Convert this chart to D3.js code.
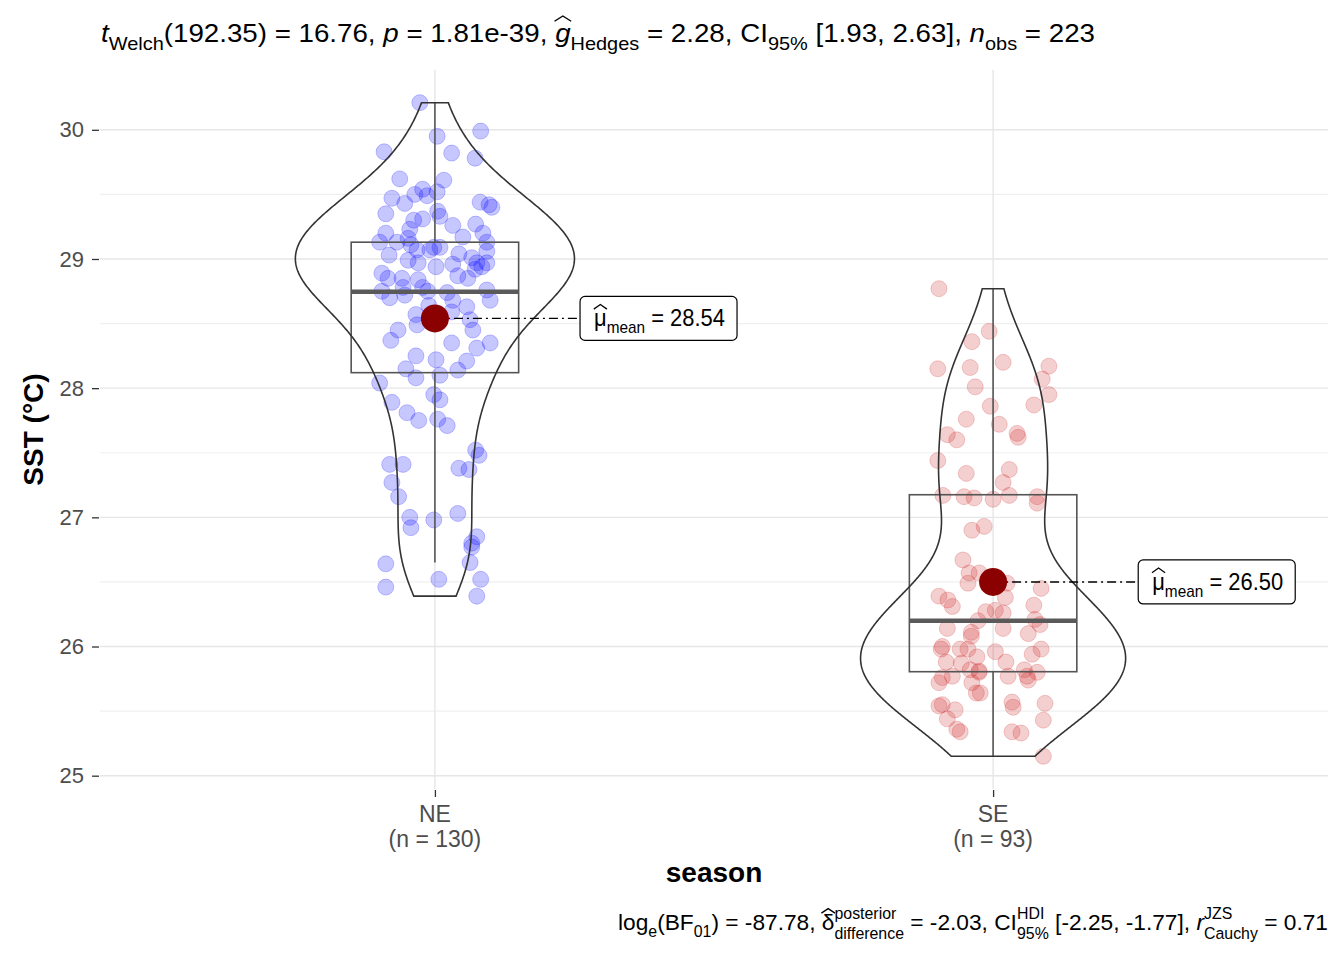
<!DOCTYPE html>
<html><head><meta charset="utf-8">
<script src="https://cdn.jsdelivr.net/npm/d3@7"></script>
<style>body{margin:0;background:#fff}text{white-space:pre}</style>
</head><body>
<svg id="chart" width="1344" height="960"></svg>
<script>
const categories = ["NE", "SE"];
const counts = [130, 93];
const yTicks = [25, 26, 27, 28, 29, 30];
const yMinorTicks = [25.5, 26.5, 27.5, 28.5, 29.5];

// observed SST values and horizontal jitter (in category units)
const neValues = [30.21,29.95,29.99,29.83,29.82,29.78,29.62,29.61,29.54,29.50,29.49,29.52,29.47,29.43,29.44,29.42,29.40,29.35,29.37,29.33,29.30,29.31,29.26,29.27,29.17,29.20,29.23,29.20,29.13,29.13,29.16,29.11,29.13,29.09,29.09,29.03,29.07,29.07,29.04,29.06,28.99,28.97,28.94,28.96,29.01,28.97,28.97,28.89,28.85,28.85,28.84,28.87,28.85,28.92,28.94,28.75,28.70,28.78,28.72,28.78,28.75,28.74,28.68,28.76,28.68,28.57,28.64,28.59,28.63,28.53,28.45,28.37,28.49,28.45,28.35,28.35,28.31,28.25,28.22,28.21,28.15,28.08,28.10,28.14,28.04,27.95,27.91,27.89,27.81,27.75,27.76,27.71,27.52,27.48,27.41,27.41,27.38,27.37,27.27,27.16,27.00,26.92,26.98,27.03,26.85,26.80,26.77,26.65,26.64,26.46,26.52,26.52,26.39];
const neJitter = [-0.027,0.004,0.082,-0.091,0.030,0.072,-0.063,0.016,-0.022,-0.036,-0.014,0.004,-0.077,-0.054,0.081,0.097,0.102,-0.088,0.005,0.009,-0.038,-0.022,0.032,0.073,0.050,-0.088,-0.045,0.086,-0.099,-0.068,-0.048,-0.043,0.093,-0.002,0.009,-0.082,-0.032,-0.009,0.043,0.093,-0.048,-0.030,0.002,0.032,0.066,0.075,0.093,-0.095,-0.084,-0.059,-0.030,0.041,0.059,0.072,0.084,-0.095,-0.081,-0.057,-0.054,-0.022,-0.013,0.022,0.032,0.093,0.099,-0.034,-0.011,0.030,0.057,0.063,-0.066,-0.079,-0.032,0.068,0.030,0.099,0.075,-0.034,0.002,0.057,-0.052,-0.034,0.009,0.041,-0.099,-0.002,0.009,-0.077,-0.050,-0.029,0.005,0.022,0.073,0.079,-0.081,-0.057,0.043,0.061,-0.077,-0.065,-0.045,-0.043,-0.002,0.041,0.075,0.066,0.066,0.063,-0.088,-0.088,0.007,0.082,0.075];
const seValues = [28.77,28.44,28.36,28.20,28.15,28.16,28.17,28.07,27.95,28.01,27.86,27.87,27.76,27.72,27.64,27.60,27.65,27.62,27.44,27.34,27.37,27.27,27.17,27.16,27.15,27.14,27.17,27.16,27.11,26.90,26.93,26.67,26.57,26.57,26.49,26.49,26.45,26.39,26.36,26.31,26.38,26.32,26.27,26.28,26.26,26.20,26.21,26.17,26.14,26.14,26.11,26.08,26.10,26.00,25.98,25.98,25.98,25.92,25.96,25.94,25.98,25.88,25.87,25.88,25.82,25.81,25.82,25.80,25.76,25.77,25.80,25.77,25.77,25.74,25.72,25.72,25.64,25.64,25.54,25.55,25.51,25.44,25.57,25.53,25.56,25.43,25.36,25.34,25.34,25.33,25.15];
const seJitter = [-0.097,-0.007,-0.038,0.018,-0.099,-0.041,0.100,0.088,0.100,-0.032,-0.005,0.073,-0.048,0.011,-0.082,-0.065,0.043,0.045,-0.099,-0.048,0.029,0.018,-0.090,-0.052,-0.034,0.000,0.029,0.079,0.079,-0.038,-0.016,-0.054,-0.043,-0.025,-0.045,0.025,0.086,-0.097,-0.081,-0.073,0.022,0.073,-0.013,0.004,0.018,-0.027,0.075,0.084,-0.082,0.018,-0.039,-0.039,0.063,-0.091,-0.093,-0.059,-0.045,-0.029,0.004,0.070,0.086,-0.084,-0.057,0.023,-0.041,-0.025,0.056,0.079,-0.091,-0.073,-0.025,0.027,0.061,0.063,-0.097,-0.038,-0.030,-0.023,-0.097,-0.091,-0.068,-0.082,0.034,0.036,0.093,0.090,-0.065,-0.059,0.034,0.050,0.090];

// box-plot summaries and means
const boxQ1 = [28.12, 25.805];
const boxMedian = [28.746, 26.20];
const boxQ3 = [29.13, 27.175];
const whiskerLow = [26.65, 25.15];
const whiskerHigh = [30.21, 28.77];
const means = [28.54, 26.50];
const meanLabels = ["28.54", "26.50"];
const pointColors = ["#0000ff", "#cd2626"];

const FONT = "'Liberation Sans', Arial, sans-serif";
const svg = d3.select("#chart");
const panel = {left: 100, right: 1328, top: 70, bottom: 789};

const series = [
  {cat: "NE", values: neValues, jitter: neJitter},
  {cat: "SE", values: seValues, jitter: seJitter}
];
const allVals = neValues.concat(seValues);
const ext = d3.extent(allVals);
const pad = (ext[1] - ext[0]) * 0.05;
const y = d3.scaleLinear().domain([ext[0] - pad, ext[1] + pad]).range([panel.bottom, panel.top]);
const x = d3.scalePoint().domain(categories).range([panel.left, panel.right]).padding(0.6);
const step = x.step();

// grid
const grid = svg.append("g");
grid.selectAll("line.minor").data(yMinorTicks).join("line")
  .attr("x1", panel.left).attr("x2", panel.right)
  .attr("y1", d => y(d)).attr("y2", d => y(d))
  .attr("stroke", "#f0f0f0").attr("stroke-width", 1.2);
grid.selectAll("line.major").data(yTicks).join("line")
  .attr("x1", panel.left).attr("x2", panel.right)
  .attr("y1", d => y(d)).attr("y2", d => y(d))
  .attr("stroke", "#e6e6e6").attr("stroke-width", 1.4);
grid.selectAll("line.vx").data(categories).join("line")
  .attr("x1", d => x(d)).attr("x2", d => x(d))
  .attr("y1", panel.top).attr("y2", panel.bottom)
  .attr("stroke", "#e6e6e6").attr("stroke-width", 1.4);

// axes
const yAxis = svg.append("g").attr("transform", `translate(${panel.left - 1},0)`)
  .call(d3.axisLeft(y).tickValues(yTicks).tickSize(7).tickPadding(8).tickFormat(d3.format("d")));
yAxis.select(".domain").remove();
yAxis.selectAll(".tick line").attr("stroke", "#333").attr("stroke-width", 1.3);
yAxis.selectAll(".tick text").attr("font-family", FONT).attr("font-size", 22).attr("fill", "#4d4d4d");

const xAxis = svg.append("g").attr("transform", `translate(0,${panel.bottom + 1})`)
  .call(d3.axisBottom(x).tickSize(7).tickPadding(5).tickFormat(() => ""));
xAxis.select(".domain").remove();
xAxis.selectAll(".tick line").attr("stroke", "#333").attr("stroke-width", 1.3);
xAxis.selectAll(".tick text").remove();
categories.forEach((c, i) => {
  svg.append("text").attr("x", x(c)).attr("y", 822).attr("text-anchor", "middle")
    .attr("font-family", FONT).attr("font-size", 23).attr("fill", "#4d4d4d").text(c);
  svg.append("text").attr("x", x(c)).attr("y", 847).attr("text-anchor", "middle")
    .attr("font-family", FONT).attr("font-size", 23).attr("fill", "#4d4d4d").text(`(n = ${counts[i]})`);
});
svg.append("text").attr("x", (panel.left + panel.right) / 2).attr("y", 882).attr("text-anchor", "middle")
  .attr("font-family", FONT).attr("font-size", 28).attr("font-weight", "bold").text("season");
svg.append("text").attr("transform", `translate(43,${(panel.top + panel.bottom) / 2}) rotate(-90)`)
  .attr("text-anchor", "middle").attr("font-family", FONT).attr("font-size", 28).attr("font-weight", "bold")
  .text("SST (°C)");

// points
series.forEach((s, i) => {
  svg.append("g").selectAll("circle").data(s.values).join("circle")
    .attr("cx", (d, j) => x(s.cat) + s.jitter[j] * step)
    .attr("cy", d => y(d))
    .attr("r", 8)
    .attr("fill", pointColors[i]).attr("fill-opacity", 0.22)
    .attr("stroke", pointColors[i]).attr("stroke-opacity", 0.22).attr("stroke-width", 1);
});

// boxplots
series.forEach((s, i) => {
  const cx = x(s.cat), hw = 0.15 * step;
  const g = svg.append("g").attr("stroke", "#555").attr("fill", "none");
  g.append("line").attr("x1", cx).attr("x2", cx).attr("y1", y(boxQ3[i])).attr("y2", y(whiskerHigh[i])).attr("stroke-width", 1.6);
  g.append("line").attr("x1", cx).attr("x2", cx).attr("y1", y(boxQ1[i])).attr("y2", y(whiskerLow[i])).attr("stroke-width", 1.6);
  g.append("rect").attr("x", cx - hw).attr("width", 2 * hw)
    .attr("y", y(boxQ3[i])).attr("height", y(boxQ1[i]) - y(boxQ3[i])).attr("stroke-width", 1.6);
  g.append("line").attr("x1", cx - hw).attr("x2", cx + hw).attr("y1", y(boxMedian[i])).attr("y2", y(boxMedian[i]))
    .attr("stroke-width", 4.5).attr("stroke", "#5a5a5a");
});

// violins (gaussian KDE, nrd0 bandwidth, trimmed, area scaled)
function kde(vals) {
  const v = vals.slice().sort(d3.ascending);
  const n = v.length;
  const sd = d3.deviation(v);
  const iqr = d3.quantile(v, 0.75) - d3.quantile(v, 0.25);
  const bw = 0.9 * Math.min(sd, iqr / 1.34) * Math.pow(n, -0.2);
  const lo = v[0], hi = v[n - 1];
  const pts = [];
  for (let k = 0; k < 512; k++) {
    const t = lo + (hi - lo) * k / 511;
    let s = 0;
    for (const xi of v) { const u = (t - xi) / bw; s += Math.exp(-0.5 * u * u); }
    pts.push([t, s / (n * bw * Math.sqrt(2 * Math.PI))]);
  }
  return pts;
}
const dens = series.map(s => kde(s.values));
const maxD = d3.max(dens, d => d3.max(d, p => p[1]));
series.forEach((s, i) => {
  const cx = x(s.cat);
  const w = d3.scaleLinear().domain([0, maxD]).range([0, 0.25 * step]);
  const area = d3.area().y(p => y(p[0])).x0(p => cx - w(p[1])).x1(p => cx + w(p[1])).curve(d3.curveLinear);
  svg.append("path").datum(dens[i]).attr("d", area)
    .attr("fill", "none").attr("stroke", "#333").attr("stroke-width", 1.6);
});

// rich text helper
function rich(parent, segs, opt) {
  const size = opt.size;
  const g = parent.append("g").attr("font-family", FONT).attr("fill", opt.fill || "#000");
  const inner = g.append("g");
  let cx = 0;
  const small = size * (opt.small || 0.7);
  for (const s of segs) {
    if (s.t !== undefined) {
      const t = inner.append("text").attr("x", cx).attr("y", 0).attr("font-size", size)
        .attr("font-style", s.it ? "italic" : "normal").text(s.t);
      const w = t.node().getComputedTextLength();
      if (s.hat) {
        const hx = cx + w / 2 + (s.hatDx || 0), hy = -size * s.hat, hw = size * 0.3;
        inner.append("path").attr("d", `M${hx - hw},${hy + size * 0.2}L${hx},${hy}L${hx + hw},${hy + size * 0.2}`)
          .attr("fill", "none").attr("stroke", "#000").attr("stroke-width", 1.3);
      }
      cx += w;
    } else {
      let w = 0;
      if (s.sub !== undefined) {
        const t = inner.append("text").attr("x", cx).attr("y", size * (s.subDy || 0.3)).attr("font-size", small).text(s.sub);
        w = Math.max(w, t.node().getComputedTextLength());
      }
      if (s.sup !== undefined) {
        const t = inner.append("text").attr("x", cx).attr("y", -size * (s.supDy || 0.5)).attr("font-size", small).text(s.sup);
        w = Math.max(w, t.node().getComputedTextLength());
      }
      cx += w;
    }
  }
  let sx = 1;
  if (opt.fitWidth) { sx = opt.fitWidth / cx; inner.attr("transform", `scale(${sx},1)`); }
  const W = cx * sx;
  const dx = opt.anchor === "end" ? -W : opt.anchor === "middle" ? -W / 2 : 0;
  g.attr("transform", `translate(${opt.x + dx},${opt.y})`);
  return {g, width: W};
}

// mean markers with labels
series.forEach((s, i) => {
  const cx = x(s.cat), cy = y(means[i]);
  const lx = cx + 0.26 * step;
  svg.append("line").attr("x1", cx).attr("x2", lx).attr("y1", cy).attr("y2", cy)
    .attr("stroke", "#000").attr("stroke-width", 1.4).attr("stroke-dasharray", "9,4,2,4");
  const lg = svg.append("g");
  const box = lg.append("rect");
  const r = rich(lg, [{t: "μ", hat: 0.95}, {sub: "mean", subDy: 0.3}, {t: " = " + meanLabels[i]}],
    {x: lx + 14, y: cy + 8, size: 23, fitWidth: 131});
  box.attr("x", lx).attr("y", cy - 22).attr("width", r.width + 26).attr("height", 44)
    .attr("rx", 5).attr("fill", "#fff").attr("stroke", "#000").attr("stroke-width", 1.2);
  svg.append("circle").attr("cx", cx).attr("cy", cy).attr("r", 14).attr("fill", "#8b0000");
});

// title
rich(svg, [
  {t: "t", it: true}, {sub: "Welch"}, {t: "(192.35) = 16.76, "},
  {t: "p", it: true}, {t: " = 1.81e-39, "},
  {t: "g", it: true, hat: 1.0}, {sub: "Hedges"}, {t: " = 2.28, CI"}, {sub: "95%"},
  {t: " [1.93, 2.63], "}, {t: "n", it: true}, {sub: "obs"}, {t: " = 223"}
], {x: 101, y: 42, size: 26, small: 0.72, fitWidth: 994});

// subtitle
rich(svg, [
  {t: "log"}, {sub: "e", subDy: 0.3}, {t: "(BF"}, {sub: "01", subDy: 0.3}, {t: ") = -87.78, "},
  {t: "δ", hat: 0.95}, {sup: "posterior", sub: "difference", supDy: 0.5, subDy: 0.38}, {t: " = -2.03, CI"},
  {sup: "HDI", sub: "95%", supDy: 0.5, subDy: 0.38}, {t: " [-2.25, -1.77], "},
  {t: "r", it: true}, {sup: "JZS", sub: "Cauchy", supDy: 0.5, subDy: 0.38}, {t: " = 0.71"}
], {x: 1328, y: 930, size: 22.5, fitWidth: 710, anchor: "end"});
</script>
</body></html>
